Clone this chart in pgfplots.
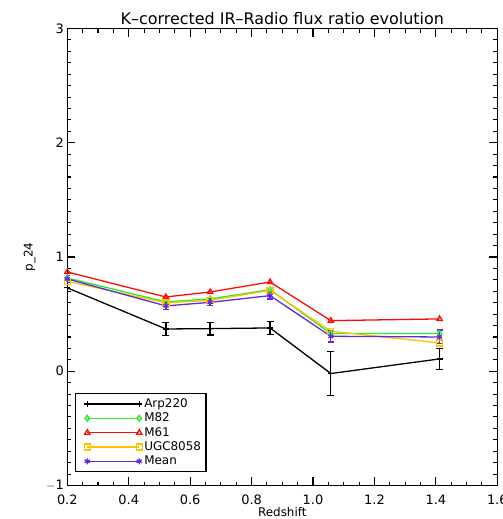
\documentclass[border=0pt]{standalone}
\usepackage{pgfplots}
\pgfplotsset{compat=1.18}
\usepackage{fontspec}
\setmainfont{DejaVu Sans}
\definecolor{cgreen}{RGB}{40,235,40}
\definecolor{cred}{RGB}{255,10,10}
\definecolor{corange}{RGB}{255,195,0}
\definecolor{cpurple}{RGB}{100,40,225}
\begin{document}
\begin{tikzpicture}
\begin{axis}[
  at={(0,0)}, anchor=south west,
  scale only axis, width=430bp, height=457bp,
  xmin=0.2, xmax=1.6, ymin=-1, ymax=3,
  xtick={0.2,0.4,...,1.6}, ytick={-1,0,1,2,3},
  xticklabels={0.2,0.4,0.6,0.8,1.0,1.2,1.4,1.6},
  yticklabels={$-$1,0,1,2,3},
  minor x tick num=3, minor y tick num=9,
  tick align=inside, major tick length=8bp, minor tick length=4bp,
  tick style={black, line width=1.1pt},
  axis line style={line width=1.3pt},
  xticklabel style={font=\fontsize{13}{15}\selectfont, yshift=-6pt},
  yticklabel style={font=\fontsize{13}{15}\selectfont},
  /pgf/number format/assume math mode=true,
  title={K--corrected IR--Radio flux ratio evolution},
  title style={font=\fontsize{16}{18}\selectfont, yshift=-6pt},
  xlabel={Redshift}, ylabel={p\_24},
  xlabel style={font=\fontsize{12}{14}\selectfont, yshift=4pt},
  ylabel style={font=\fontsize{12}{14}\selectfont, yshift=4pt},
  legend style={at={(0.018,0.202)}, anchor=north west, draw=black, line width=1.2pt,
    font=\fontsize{12}{14}\selectfont, cells={anchor=west}, inner sep=3pt, row sep=0pt},
  legend image code/.code={\path (0bp,0bp) (62bp,0bp);\draw[mark repeat=1,mark phase=1,line width=1.3pt,#1] plot coordinates {(8bp,0bp) (60bp,0bp)};},
  every axis plot/.append style={line width=1.3pt, mark size=3pt},
  clip=true,
]
\addplot[black, mark=+, error bars/.cd, y dir=both, y explicit, error bar style={line width=1.3pt}, error mark options={rotate=90, mark size=3.5pt, line width=1.3pt}]
  coordinates {(0.2,0.73) +- (0,0.03) (0.521,0.37) +- (0,0.055) (0.665,0.373) +- (0,0.055) (0.86,0.379) +- (0,0.055) (1.058,-0.02) +- (0,0.19) (1.412,0.108) +- (0,0.09)};
\addlegendentry{Arp220}
\addplot[cgreen, mark=diamond] coordinates {(0.2,0.816) (0.521,0.607) (0.665,0.633) (0.86,0.714) (1.058,0.33) (1.412,0.33)};
\addlegendentry{M82}
\addplot[cred, mark=triangle] coordinates {(0.2,0.869) (0.521,0.65) (0.665,0.694) (0.86,0.781) (1.058,0.443) (1.412,0.458)};
\addlegendentry{M61}
\addplot[corange, mark=square] coordinates {(0.2,0.787) (0.521,0.598) (0.665,0.62) (0.86,0.708) (1.058,0.35) (1.412,0.248)};
\addlegendentry{UGC8058}
\addplot[cpurple, mark=asterisk, error bars/.cd, y dir=both, y explicit, error bar style={line width=1.3pt}, error mark options={rotate=90, mark size=3pt, line width=1.3pt}]
  coordinates {(0.2,0.808) +- (0,0.03) (0.521,0.572) +- (0,0.03) (0.665,0.603) +- (0,0.03) (0.86,0.662) +- (0,0.03) (1.058,0.306) +- (0,0.05) (1.412,0.30) +- (0,0.06)};
\addlegendentry{Mean}
\end{axis}
\pgfresetboundingbox
\path[use as bounding box] (-67.3bp,-33.5bp) rectangle (435.7bp,485.5bp);
\end{tikzpicture}
\end{document}
